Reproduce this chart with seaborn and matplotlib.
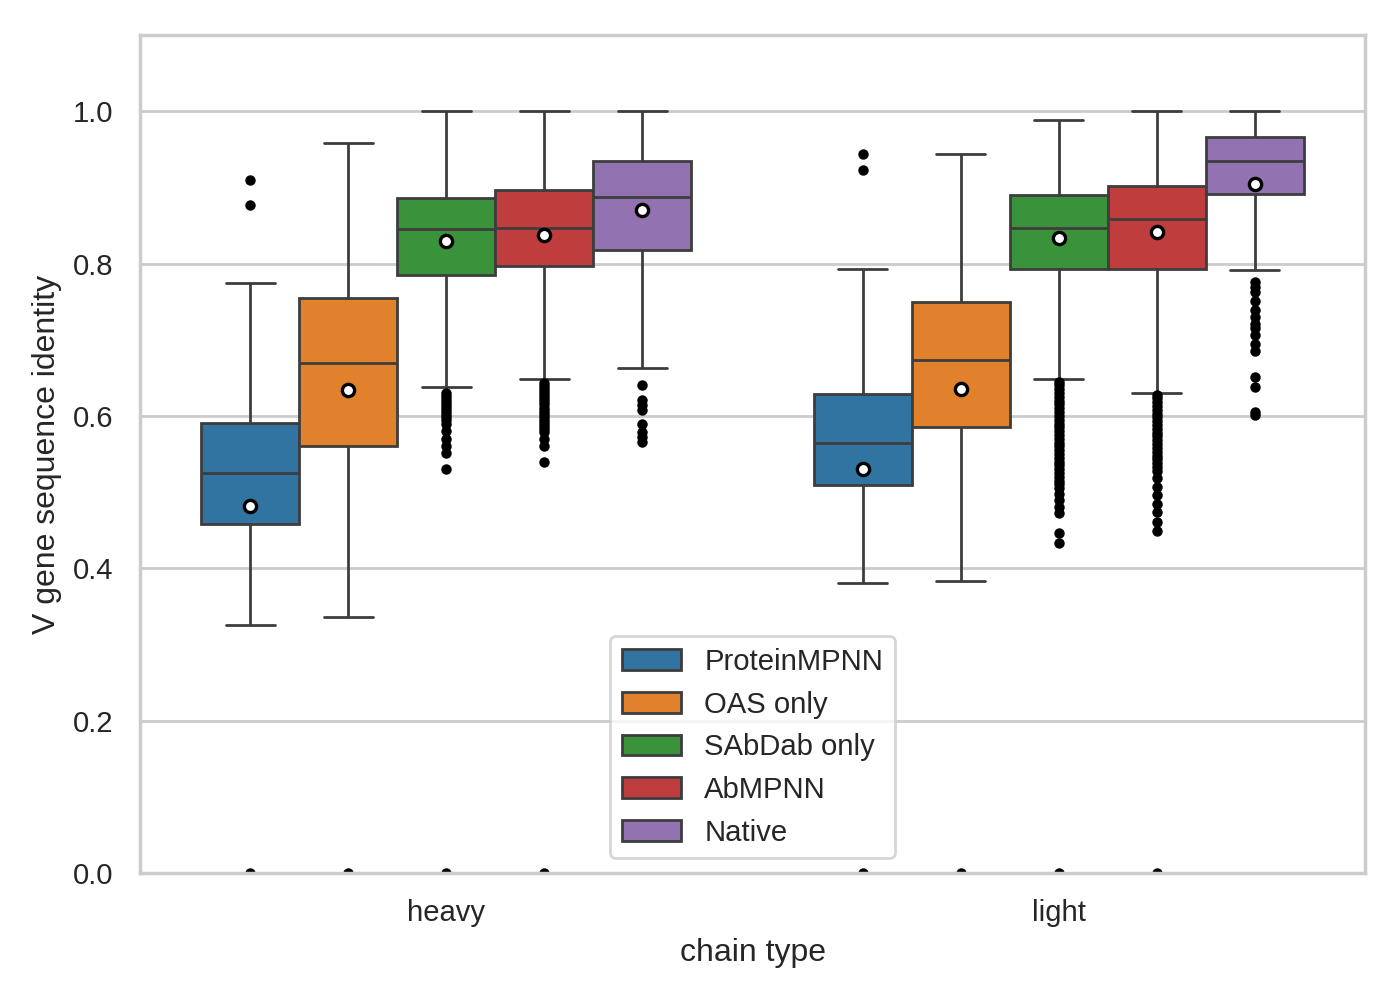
import numpy as np
import pandas as pd
import matplotlib.pyplot as plt
import seaborn as sns

chains = ["heavy", "light"]
models = ["ProteinMPNN", "OAS only", "SAbDab only", "AbMPNN", "Native"]

# box statistics, order: heavy x models, then light x models
lower_whisker = [0.325, 0.336, 0.638, 0.649, 0.663, 0.381, 0.383, 0.648, 0.630, 0.791]
lower_quartile = [0.458, 0.560, 0.785, 0.797, 0.818, 0.509, 0.586, 0.793, 0.793, 0.891]
medians = [0.525, 0.670, 0.845, 0.847, 0.887, 0.565, 0.674, 0.847, 0.858, 0.934]
upper_quartile = [0.591, 0.755, 0.886, 0.897, 0.935, 0.629, 0.749, 0.890, 0.902, 0.966]
upper_whisker = [0.774, 0.958, 1.000, 1.000, 1.000, 0.793, 0.944, 0.989, 1.000, 1.000]
means = [0.482, 0.634, 0.830, 0.838, 0.870, 0.530, 0.635, 0.833, 0.842, 0.904]

# outliers (the dots)
fliers = [
    [0.0, 0.877, 0.910],
    [0.0],
    [0.0, 0.530, 0.551, 0.560, 0.570, 0.580, 0.590, 0.594, 0.598, 0.602, 0.606,
     0.610, 0.614, 0.618, 0.622, 0.626, 0.630],
    [0.0, 0.540, 0.560, 0.570, 0.579, 0.583, 0.587, 0.591, 0.595, 0.599, 0.603,
     0.607, 0.611, 0.615, 0.619, 0.623, 0.627, 0.631, 0.635, 0.639, 0.643],
    [0.566, 0.572, 0.579, 0.589, 0.608, 0.614, 0.621, 0.640],
    [0.0, 0.923, 0.944],
    [0.0],
    [0.0, 0.433, 0.446, 0.472, 0.481, 0.490, 0.498, 0.505, 0.510, 0.515, 0.520,
     0.525, 0.530, 0.535, 0.540, 0.545, 0.550, 0.555, 0.560, 0.565, 0.570, 0.575,
     0.580, 0.585, 0.590, 0.595, 0.600, 0.605, 0.610, 0.615, 0.620, 0.625, 0.630,
     0.635, 0.640, 0.645],
    [0.0, 0.449, 0.461, 0.474, 0.485, 0.496, 0.507, 0.518, 0.528, 0.533, 0.538,
     0.543, 0.548, 0.553, 0.558, 0.563, 0.568, 0.573, 0.578, 0.583, 0.588, 0.593,
     0.598, 0.603, 0.608, 0.613, 0.618, 0.623, 0.628],
    [0.601, 0.605, 0.638, 0.651, 0.685, 0.695, 0.706, 0.715, 0.721, 0.730, 0.739,
     0.751, 0.763, 0.769, 0.776],
]

sns.set_theme(style="whitegrid", font_scale=0.96)
plt.rcParams['font.family'] = ['Liberation Sans', 'DejaVu Sans']

# long table that reproduces the box statistics above
rows = []
k = 0
for chain in chains:
    for model in models:
        vals = list(fliers[k]) + [lower_whisker[k], upper_whisker[k]]
        vals += [lower_quartile[k]] * 200 + [medians[k]] * 200 + [upper_quartile[k]] * 200
        for v in vals:
            rows.append({"chain type": chain, "model": model, "identity": v})
        k += 1
df = pd.DataFrame(rows)

mean_df = pd.DataFrame({
    "chain type": np.repeat(chains, len(models)),
    "model": models * len(chains),
    "identity": means,
})

fig, ax = plt.subplots(figsize=(7, 5), dpi=200)
sns.boxplot(data=df, x="chain type", y="identity", hue="model",
            order=chains, hue_order=models, palette="tab10", ax=ax,
            flierprops={"marker": ".", "markerfacecolor": "black",
                        "markeredgecolor": "black", "markersize": 5.5})
sns.pointplot(data=mean_df, x="chain type", y="identity", hue="model",
              order=chains, hue_order=models, palette=["white"] * 5,
              dodge=0.64, errorbar=None, markers="o", linestyle="none",
              markeredgecolor="black", markersize=4.4, markeredgewidth=1.2,
              zorder=10, legend=False, ax=ax)

ax.set_ylim(0, 1.1)
ax.set_xlim(-0.5, 1.5)
ax.set_xlabel("chain type")
ax.set_ylabel("V gene sequence identity")
sns.move_legend(ax, "lower center", title=None)

fig.subplots_adjust(left=0.1, right=0.975, top=0.965, bottom=0.127)
fig.savefig("out.png", dpi=200)
